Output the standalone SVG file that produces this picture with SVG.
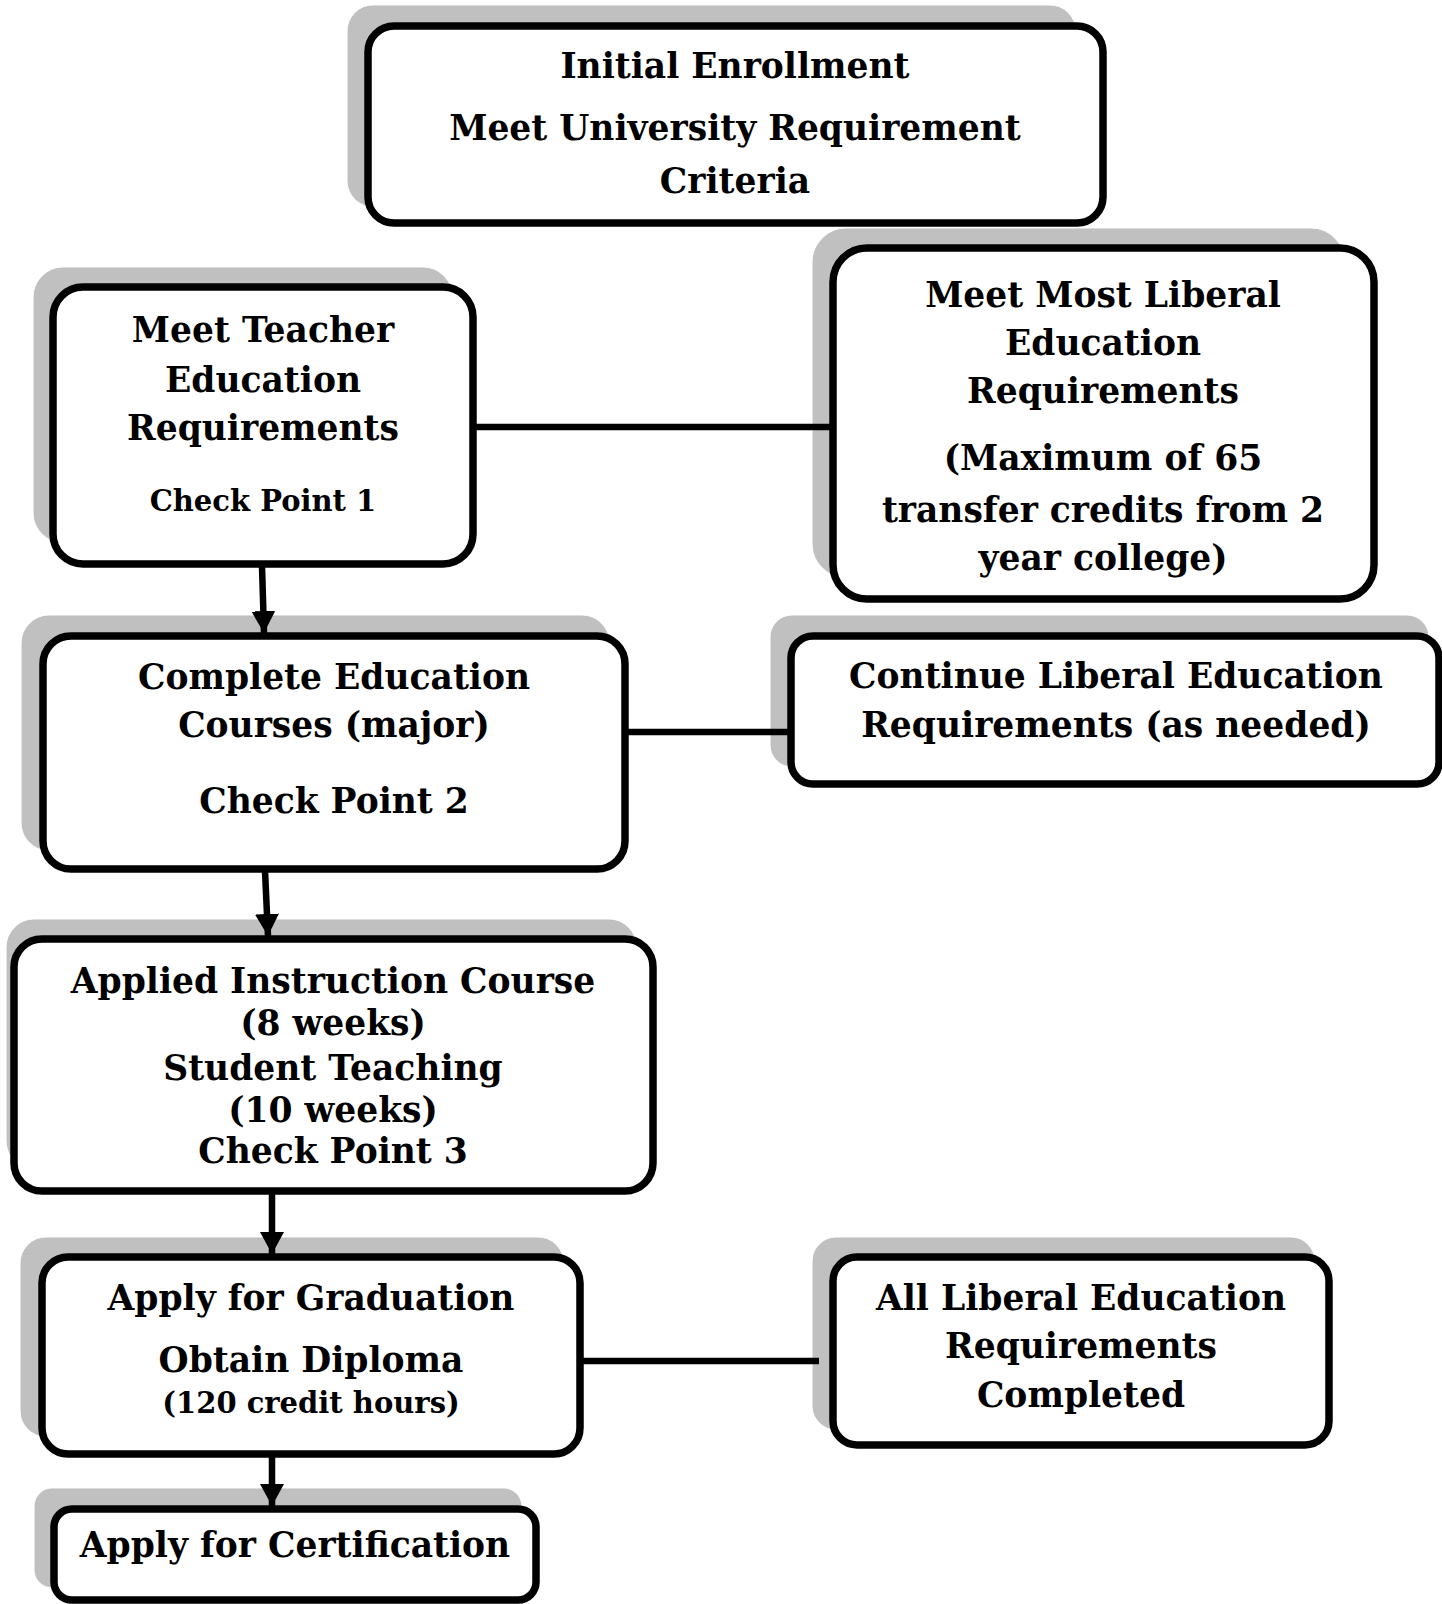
<svg xmlns="http://www.w3.org/2000/svg" width="1442" height="1604" viewBox="0 0 1442 1604">
<defs>
<style>
.shadow{fill:#c0c0c0;stroke:#ffffff;stroke-width:1.2;stroke-opacity:0.9}
.box{fill:#ffffff;stroke:#000000;stroke-width:7.5}
.conn{stroke:#000000;stroke-width:6.5;fill:none}
text{font-family:"DejaVu Serif","Liberation Serif",serif;font-weight:bold;fill:#000000;text-anchor:middle}
.t{font-size:34.5px}
.s{font-size:29px}
</style>
<marker id="arr" markerUnits="userSpaceOnUse" markerWidth="24" markerHeight="24" refX="22" refY="12" orient="auto">
<path d="M0,0 L22,12 L0,24 z" fill="#000000"/>
</marker>
</defs>
<rect width="1442" height="1604" fill="#ffffff"/>

<g id="n1">
<rect class="shadow" x="347" y="5" width="729" height="202" rx="26"/>
<rect class="box" x="368" y="26" width="735" height="197" rx="26"/>
<text class="t" x="735" y="78">Initial Enrollment</text>
<text class="t" x="735" y="140">Meet University Requirement</text>
<text class="t" x="735" y="193">Criteria</text>
</g>

<g id="n2">
<rect class="shadow" x="33" y="267" width="420" height="276" rx="30"/>
<rect class="box" x="53" y="287" width="420" height="277" rx="30"/>
<text class="t" x="263" y="342">Meet Teacher</text>
<text class="t" x="263" y="392">Education</text>
<text class="t" x="263" y="440">Requirements</text>
<text class="s" x="263" y="511">Check Point 1</text>
</g>

<g id="n3">
<rect class="shadow" x="812" y="228" width="533" height="350" rx="34"/>
<rect class="box" x="833" y="248" width="541" height="351" rx="34"/>
<text class="t" x="1103" y="307">Meet Most Liberal</text>
<text class="t" x="1103" y="355">Education</text>
<text class="t" x="1103" y="403">Requirements</text>
<text class="t" x="1103" y="470">(Maximum of 65</text>
<text class="t" x="1103" y="522">transfer credits from 2</text>
<text class="t" x="1103" y="570">year college)</text>
</g>

<g id="n4">
<rect class="shadow" x="21" y="615" width="589" height="236" rx="28"/>
<rect class="box" x="43" y="636" width="582" height="233" rx="28"/>
<text class="t" x="334" y="689">Complete Education</text>
<text class="t" x="334" y="737">Courses (major)</text>
<text class="t" x="334" y="813">Check Point 2</text>
</g>

<g id="n5">
<rect class="shadow" x="770" y="615" width="659" height="152" rx="22"/>
<rect class="box" x="791" y="636" width="648" height="148" rx="22"/>
<text class="t" x="1116" y="688">Continue Liberal Education</text>
<text class="t" x="1116" y="737">Requirements (as needed)</text>
</g>

<g id="n6">
<rect class="shadow" x="6" y="919" width="631" height="250" rx="28"/>
<rect class="box" x="14" y="939" width="639" height="252" rx="28"/>
<text class="t" x="333" y="993">Applied Instruction Course</text>
<text class="t" x="333" y="1035">(8 weeks)</text>
<text class="t" x="333" y="1080">Student Teaching</text>
<text class="t" x="333" y="1122">(10 weeks)</text>
<text class="t" x="333" y="1163">Check Point 3</text>
</g>

<g id="n7">
<rect class="shadow" x="20" y="1237" width="544" height="200" rx="26"/>
<rect class="box" x="42" y="1257" width="538" height="197" rx="26"/>
<text class="t" x="311" y="1310">Apply for Graduation</text>
<text class="t" x="311" y="1372">Obtain Diploma</text>
<text class="s" x="311" y="1413">(120 credit hours)</text>
</g>

<g id="n8">
<rect class="shadow" x="34" y="1488" width="488" height="100" rx="18"/>
<rect class="box" x="54" y="1509" width="482" height="91" rx="18"/>
<text class="t" x="295" y="1557">Apply for Certification</text>
</g>

<g id="n9">
<rect class="shadow" x="812" y="1237" width="503" height="193" rx="24"/>
<rect class="box" x="833" y="1257" width="496" height="188" rx="24"/>
<text class="t" x="1081" y="1310">All Liberal Education</text>
<text class="t" x="1081" y="1358">Requirements</text>
<text class="t" x="1081" y="1407">Completed</text>
</g>

<g id="connectors">
<line class="conn" x1="476" y1="427" x2="831" y2="427"/>
<line class="conn" x1="628" y1="732" x2="788" y2="732"/>
<line class="conn" x1="583" y1="1361" x2="819" y2="1361"/>
<line class="conn" x1="262" y1="566" x2="264" y2="633" marker-end="url(#arr)"/>
<line class="conn" x1="265" y1="871" x2="268" y2="936" marker-end="url(#arr)"/>
<line class="conn" x1="272" y1="1193" x2="272" y2="1254" marker-end="url(#arr)"/>
<line class="conn" x1="272" y1="1456" x2="272" y2="1506" marker-end="url(#arr)"/>
</g>
</svg>
